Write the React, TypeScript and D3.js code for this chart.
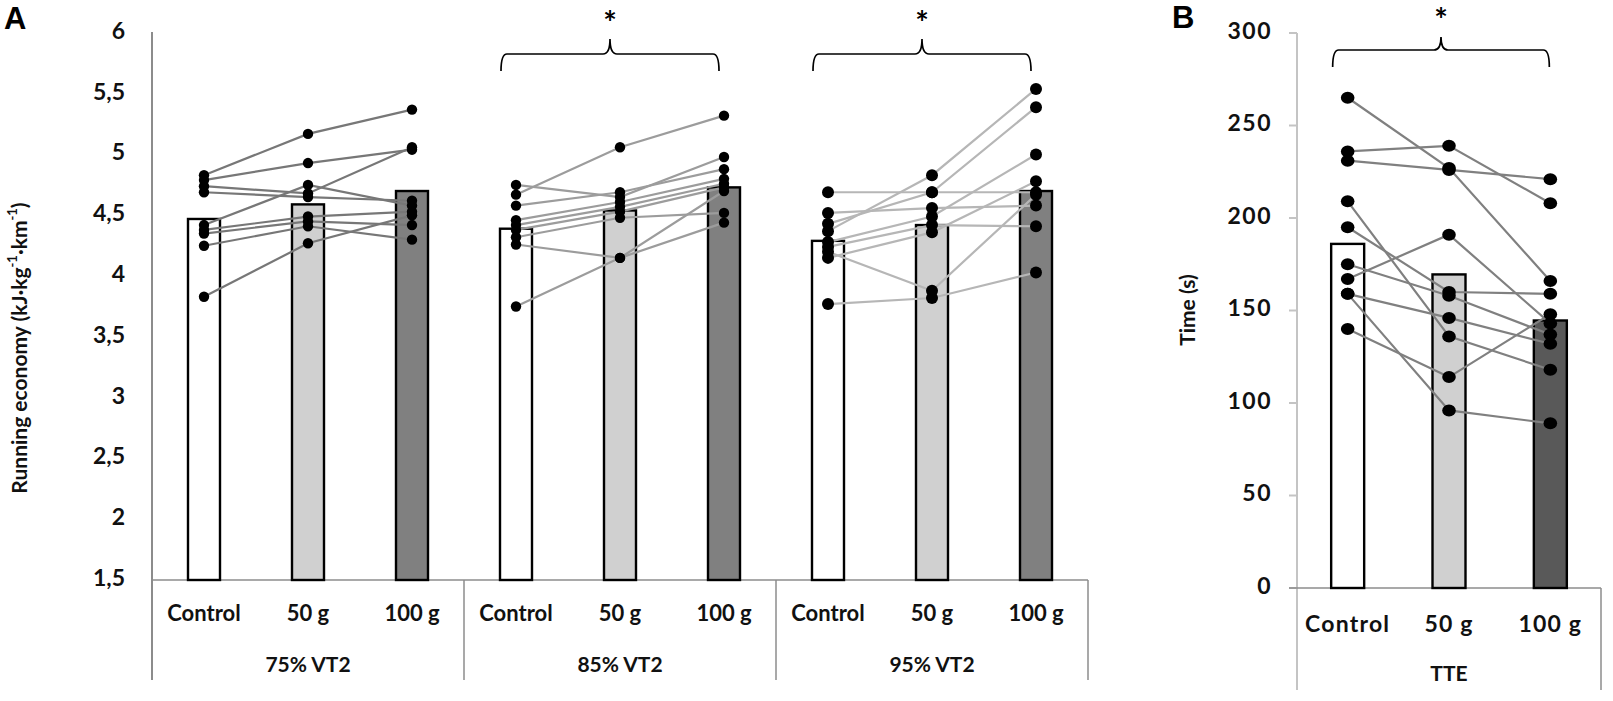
import * as d3 from "d3"

// ---- data ----
const CONDITIONS = ["Control", "50 g", "100 g"]
const INTENSITIES = ["75% VT2", "85% VT2", "95% VT2"]
const RE_TICKS = [1.5, 2, 2.5, 3, 3.5, 4, 4.5, 5, 5.5, 6]
const TTE_TICKS = [0, 50, 100, 150, 200, 250, 300]

// group means (bars), kJ·kg-1·km-1
const RE_MEANS_75 = [4.47, 4.59, 4.7]
const RE_MEANS_85 = [4.39, 4.54, 4.73]
const RE_MEANS_95 = [4.29, 4.42, 4.7]

// individual runners: [Control, 50 g, 100 g]
const RE_SUBJECTS_75 = [
  [4.83, 5.17, 5.37],
  [4.79, 4.93, 5.04],
  [4.74, 4.68, 5.06],
  [4.69, 4.65, 4.62],
  [4.42, 4.75, 4.58],
  [4.38, 4.49, 4.53],
  [4.35, 4.45, 4.42],
  [4.25, 4.41, 4.3],
  [3.83, 4.27, 4.5],
]
const RE_SUBJECTS_85 = [
  [4.67, 5.06, 5.32],
  [4.75, 4.65, 4.98],
  [4.58, 4.69, 4.88],
  [4.46, 4.61, 4.8],
  [4.42, 4.57, 4.76],
  [4.38, 4.53, 4.73],
  [4.32, 4.48, 4.52],
  [4.26, 4.15, 4.7],
  [3.75, 4.15, 4.44],
]
const RE_SUBJECTS_95 = [
  [4.69, 4.69, 4.69],
  [4.37, 4.83, 5.54],
  [4.43, 4.69, 5.39],
  [4.28, 4.49, 5.0],
  [4.52, 4.56, 4.58],
  [4.24, 4.42, 4.41],
  [4.15, 4.36, 4.78],
  [4.2, 3.88, 4.67],
  [3.77, 3.82, 4.03],
]
const SIGNIFICANT = [false, true, true]

// time to exhaustion, s
const TTE_MEANS = [186, 169.5, 144.6]
const TTE_SUBJECTS = [
  [265, 227, 166],
  [236, 239, 208],
  [231, 226, 221],
  [209, 136, 118],
  [195, 160, 159],
  [175, 158, 137],
  [167, 191, 143],
  [159, 146, 132],
  [159, 96, 89],
  [140, 114, 148],
]

// ---- styling ----
const FONT = "Lato, 'Open Sans', sans-serif"
const FILL_A = ["#ffffff", "#d0d0d0", "#808080"]
const FILL_B = ["#ffffff", "#d0d0d0", "#595959"]
const LINE_A = ["#777777", "#9c9c9c", "#b6b6b6"]
const DOT_A = [5.2, 5.2, 6]

const fmtComma = (v: number) => String(v).replace(".", ",")

function Brace({ x1, x2, yTop, yEnd, yPeak }: { x1: number; x2: number; yTop: number; yEnd: number; yPeak: number }) {
  const m = (x1 + x2) / 2
  const p = d3.path()
  p.moveTo(x1, yEnd)
  p.quadraticCurveTo(x1, yTop, x1 + 6, yTop)
  p.lineTo(m - 7, yTop)
  p.quadraticCurveTo(m, yTop, m, yPeak)
  p.quadraticCurveTo(m, yTop, m + 7, yTop)
  p.lineTo(x2 - 6, yTop)
  p.quadraticCurveTo(x2, yTop, x2, yEnd)
  return <path d={p.toString()} fill="none" stroke="#000" strokeWidth={1.7} />
}

function PanelA() {
  const left = 152
  const right = 1088
  const base = 580
  const bottom = 680
  const y = d3.scaleLinear().domain([1.5, 6]).range([base, 33])
  const groupX = d3.scaleBand<string>().domain(INTENSITIES).range([left, right])
  const condX = d3.scaleBand<string>().domain(CONDITIONS).range([0, groupX.bandwidth()])
  const barW = 32
  const means = [RE_MEANS_75, RE_MEANS_85, RE_MEANS_95]
  const subjects = [RE_SUBJECTS_75, RE_SUBJECTS_85, RE_SUBJECTS_95]
  const cx = (g: string, c: string) => groupX(g)! + condX(c)! + condX.bandwidth() / 2

  return (
    <g fontFamily={FONT} fontWeight={700}>
      <text x={4} y={29} fontSize={31} fontFamily="Liberation Sans, Arial, sans-serif" fontWeight={700}>A</text>

      {/* y axis title */}
      <text transform="translate(22,348) rotate(-90)" textAnchor="middle" dominantBaseline="middle" fontSize={21} fill="#111">
        Running economy (kJ·kg
        <tspan fontSize={13} dy={-8}>-1</tspan>
        <tspan dy={8}>·km</tspan>
        <tspan fontSize={13} dy={-8}>-1</tspan>
        <tspan dy={8}>)</tspan>
      </text>

      {RE_TICKS.map((t) => (
        <text key={t} x={125} y={y(t)} textAnchor="end" dominantBaseline="middle" fontSize={23} fill="#111">
          {fmtComma(t)}
        </text>
      ))}

      {/* axes */}
      <line x1={left} x2={left} y1={32} y2={bottom} stroke="#8c8c8c" strokeWidth={2} />
      <line x1={left} x2={right} y1={base} y2={base} stroke="#8c8c8c" strokeWidth={1.5} />
      {INTENSITIES.map((g) => (
        <line key={g} x1={groupX(g)! + groupX.bandwidth()} x2={groupX(g)! + groupX.bandwidth()} y1={base} y2={bottom} stroke="#8c8c8c" strokeWidth={1.5} />
      ))}

      {INTENSITIES.map((g, gi) => (
        <g key={g}>
          {CONDITIONS.map((c, ci) => (
            <rect key={c} x={cx(g, c) - barW / 2} y={y(means[gi][ci])} width={barW} height={base - y(means[gi][ci])}
              fill={FILL_A[ci]} stroke="#000" strokeWidth={2.4} />
          ))}
          {subjects[gi].map((s, si) => (
            <path key={si}
              d={d3.line<number>().x((_, i) => cx(g, CONDITIONS[i])).y((v) => y(v))(s) ?? ""}
              fill="none" stroke={LINE_A[gi]} strokeWidth={2.2} />
          ))}
          {subjects[gi].map((s, si) =>
            s.map((v, i) => <circle key={si + "-" + i} cx={cx(g, CONDITIONS[i])} cy={y(v)} r={DOT_A[gi]} fill="#000" />)
          )}
          {CONDITIONS.map((c) => (
            <text key={c} x={cx(g, c)} y={615} textAnchor="middle" dominantBaseline="middle" fontSize={22} fill="#111">{c}</text>
          ))}
          <text x={groupX(g)! + groupX.bandwidth() / 2} y={667} textAnchor="middle" dominantBaseline="middle" fontSize={21} fill="#111">{g}</text>
          {SIGNIFICANT[gi] && (
            <g>
              <Brace x1={cx(g, CONDITIONS[0]) - 15} x2={cx(g, CONDITIONS[2]) - 5} yTop={54} yEnd={71} yPeak={39} />
              <text x={(cx(g, CONDITIONS[0]) - 15 + cx(g, CONDITIONS[2]) - 5) / 2} y={35} textAnchor="middle" fontSize={32} fill="#000">*</text>
            </g>
          )}
        </g>
      ))}
    </g>
  )
}

function PanelB() {
  const left = 1297
  const right = 1601
  const base = 588
  const bottom = 690
  const y = d3.scaleLinear().domain([0, 300]).range([base, 33])
  const x = d3.scaleBand<string>().domain(CONDITIONS).range([left, right])
  const barW = 33
  const cx = (c: string) => x(c)! + x.bandwidth() / 2

  return (
    <g fontFamily={FONT} fontWeight={700}>
      <text x={1172} y={28} fontSize={31} fontFamily="Liberation Sans, Arial, sans-serif" fontWeight={700}>B</text>
      <text transform="translate(1190,310) rotate(-90)" textAnchor="middle" dominantBaseline="middle" fontSize={21} fill="#111">
        Time (s)
      </text>

      {TTE_TICKS.map((t) => (
        <g key={t}>
          <text x={1272} y={y(t)} textAnchor="end" dominantBaseline="middle" fontSize={23} letterSpacing={1.5} fill="#111">{t}</text>
          <line x1={left - 8} x2={left} y1={y(t)} y2={y(t)} stroke="#c4c4c4" strokeWidth={2} />
        </g>
      ))}

      <line x1={left} x2={left} y1={33} y2={bottom} stroke="#c4c4c4" strokeWidth={2} />
      <line x1={left - 8} x2={right} y1={base} y2={base} stroke="#8c8c8c" strokeWidth={1.5} />
      <line x1={right} x2={right} y1={base} y2={bottom} stroke="#8c8c8c" strokeWidth={1.5} />

      {CONDITIONS.map((c, ci) => (
        <rect key={c} x={cx(c) - barW / 2} y={y(TTE_MEANS[ci])} width={barW} height={base - y(TTE_MEANS[ci])}
          fill={FILL_B[ci]} stroke="#000" strokeWidth={2.4} />
      ))}
      {TTE_SUBJECTS.map((s, si) => (
        <path key={si}
          d={d3.line<number>().x((_, i) => cx(CONDITIONS[i])).y((v) => y(v))(s) ?? ""}
          fill="none" stroke="#808080" strokeWidth={2.2} />
      ))}
      {TTE_SUBJECTS.map((s, si) =>
        s.map((v, i) => <ellipse key={si + "-" + i} cx={cx(CONDITIONS[i])} cy={y(v)} rx={6.8} ry={6} fill="#000" />)
      )}

      {CONDITIONS.map((c) => (
        <text key={c} x={cx(c)} y={626} textAnchor="middle" dominantBaseline="middle" fontSize={23} letterSpacing={1.2} fill="#111">{c}</text>
      ))}
      <text x={(left + right) / 2} y={676} textAnchor="middle" dominantBaseline="middle" fontSize={21} fill="#111">TTE</text>

      <Brace x1={cx(CONDITIONS[0]) - 15} x2={cx(CONDITIONS[2]) - 1} yTop={50} yEnd={67} yPeak={37} />
      <text x={(cx(CONDITIONS[0]) - 15 + cx(CONDITIONS[2]) - 1) / 2} y={32} textAnchor="middle" fontSize={32} fill="#000">*</text>
    </g>
  )
}

export default function App() {
  return (
    <svg width={1613} height={701} style={{ position: "absolute", left: 0, top: 0, background: "#fff" }}>
      <rect width={1613} height={701} fill="#fff" />
      <PanelA />
      <PanelB />
    </svg>
  )
}
